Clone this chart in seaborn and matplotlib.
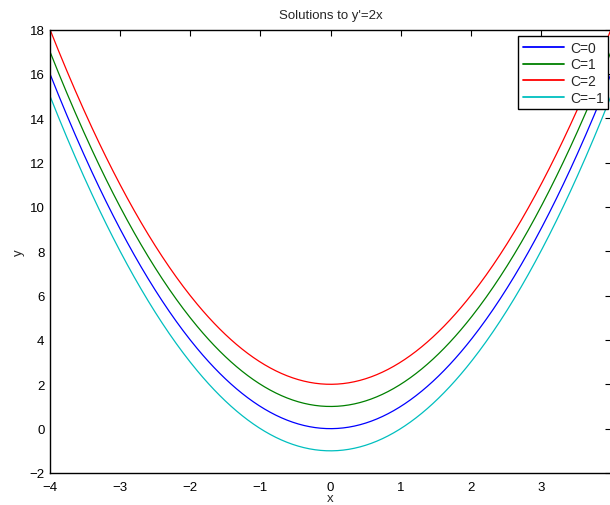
import numpy as np
import pandas as pd
import matplotlib
matplotlib.use("Agg")
import matplotlib.pyplot as plt
import seaborn as sns

# Constants of integration shown in the legend
C_values = [0, 1, 2, -1]
labels = ["C=0", "C=1", "C=2", "C=\u22121"]
colors = ["#0000ff", "#008000", "#ff0000", "#00bfbf"]
x_range = [-4, 4]
xticks = [-4, -3, -2, -1, 0, 1, 2, 3, 4]
xticklabels = ["\u22124", "\u22123", "\u22122", "\u22121", "0", "1", "2", "3", ""]
yticks = [-2, 0, 2, 4, 6, 8, 10, 12, 14, 16, 18]

x = np.linspace(x_range[0], x_range[1], 401)
frames = []
for C, lab in zip(C_values, labels):
    frames.append(pd.DataFrame({"x": x, "y": x**2 + C, "curve": lab}))
df = pd.concat(frames, ignore_index=True)

sns.set_theme(style="white")
plt.rcParams["font.family"] = ["Liberation Sans", "DejaVu Sans"]
plt.rcParams["axes.unicode_minus"] = True

fig = plt.figure(figsize=(6.10, 5.06), dpi=100)
ax = fig.add_axes([50/610, 1 - 474/506, 561/610, (474 - 30.5)/506])

sns.lineplot(data=df, x="x", y="y", hue="curve", palette=dict(zip(labels, colors)),
             hue_order=labels, linewidth=0.9, ax=ax, sort=False, estimator=None)

ax.set_xlim(-4, 4)
ax.set_ylim(-2, 18)
ax.set_xticks(xticks)
ax.set_yticks(yticks)
ax.set_xticklabels(xticklabels)
ax.set_yticklabels([str(t).replace("-", "\u2212") for t in yticks])
ax.tick_params(direction="in", length=4, width=0.8, colors="black", labelsize=9.5,
               top=True, right=True)
ax.tick_params(axis="x", pad=6)
ax.tick_params(axis="y", pad=4)
for s in ax.spines.values():
    s.set_color("black")
    s.set_linewidth(1.0)
    s.set_visible(True)

ax.set_title("Solutions to y'=2x", fontsize=9.5, pad=8)
ax.set_xlabel("x", fontsize=9.5, labelpad=-1)
ax.set_ylabel("y", fontsize=9.5, labelpad=3)

leg = ax.legend(loc="upper right", bbox_to_anchor=(0.9947, 0.985), fontsize=10,
                frameon=True, fancybox=False, edgecolor="black", framealpha=1,
                handlelength=3.0, handletextpad=0.4, labelspacing=0.2,
                borderpad=0.32, borderaxespad=0.0)
leg.get_frame().set_linewidth(1.0)
for h in leg.get_lines():
    h.set_linewidth(1.3)

fig.savefig("out.png", dpi=100)
